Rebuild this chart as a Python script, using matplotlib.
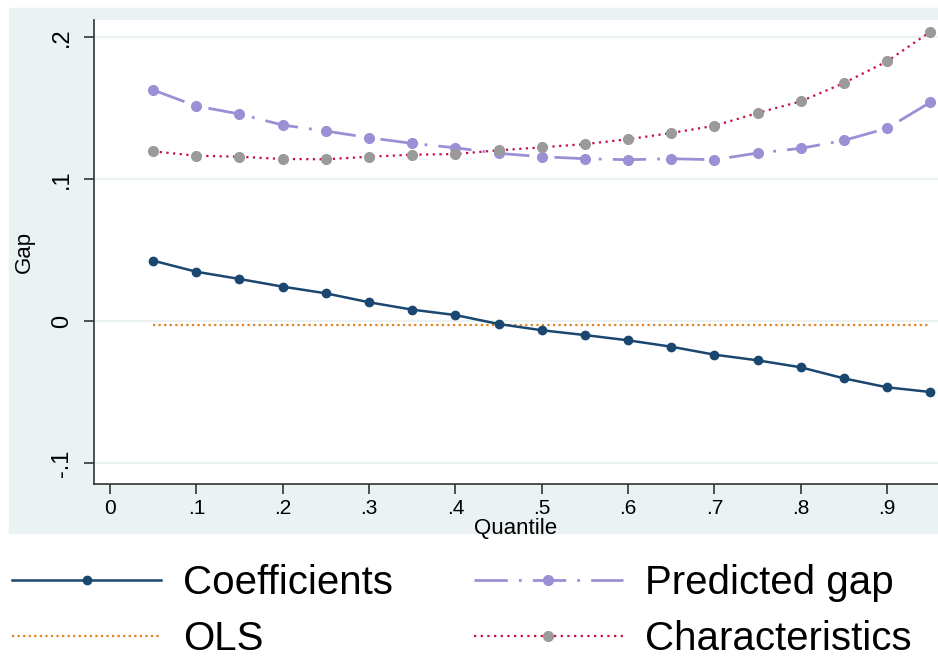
import numpy as np
import matplotlib
matplotlib.use("Agg")
import matplotlib.pyplot as plt
from matplotlib.patches import Rectangle

plt.rcParams['font.family'] = ['Liberation Sans', 'DejaVu Sans']

quantile = [0.05, 0.10, 0.15, 0.20, 0.25, 0.30, 0.35, 0.40, 0.45, 0.50,
            0.55, 0.60, 0.65, 0.70, 0.75, 0.80, 0.85, 0.90, 0.95]
coefficients = [0.0425, 0.0347, 0.0296, 0.0242, 0.0195, 0.0132, 0.0080, 0.0042, -0.0021, -0.0065,
                -0.0099, -0.0136, -0.0181, -0.0237, -0.0277, -0.0326, -0.0404, -0.0467, -0.0500]
ols = [-0.0028, -0.0028, -0.0028, -0.0028, -0.0028, -0.0028, -0.0028, -0.0028, -0.0028, -0.0028,
       -0.0028, -0.0028, -0.0028, -0.0028, -0.0028, -0.0028, -0.0028, -0.0028, -0.0028]
predicted = [0.1627, 0.1514, 0.1458, 0.1380, 0.1338, 0.1291, 0.1251, 0.1220, 0.1181, 0.1157,
             0.1143, 0.1136, 0.1143, 0.1136, 0.1183, 0.1216, 0.1272, 0.1357, 0.1540]
characteristics = [0.1195, 0.1164, 0.1157, 0.1141, 0.1139, 0.1157, 0.1171, 0.1176, 0.1202, 0.1223,
                   0.1246, 0.1280, 0.1324, 0.1375, 0.1465, 0.1547, 0.1676, 0.1829, 0.2037]

xticks = [0, .1, .2, .3, .4, .5, .6, .7, .8, .9]
xticklabels = ['0', '.1', '.2', '.3', '.4', '.5', '.6', '.7', '.8', '.9']
yticks = [-.1, 0, .1, .2]
yticklabels = ['-.1', '0', '.1', '.2']

bg = '#eaf2f3'
navy = '#1a476f'
lavender = '#9a90d6'
cranberry = '#c8103e'
gray = '#9a9a9a'
orange = '#e08020'

fig = plt.figure(figsize=(9.38, 6.67), dpi=100)
fig.patches.append(Rectangle((9/938, 1-533/667), 1, (533-8)/667,
                             transform=fig.transFigure, color=bg, zorder=-1))

ax = fig.add_axes([94/938, 1-484/667, 1-94/938, (484-20)/667])
ax.set_facecolor('white')

for y in yticks:
    ax.axhline(y, color=bg, lw=1.5, zorder=0)

ax.plot(quantile, coefficients, color=navy, lw=1.8, marker='o', ms=6, label='Coefficients', zorder=4)
ax.plot(quantile, ols, color=orange, lw=1.6, ls=(0, (1, 1.5)), label='OLS', zorder=3)
ax.plot(quantile, predicted, color=lavender, lw=2, marker='o', ms=7,
        dashes=(12, 4, 1, 4), label='Predicted gap', zorder=3)
ax.plot(quantile, characteristics, color=cranberry, lw=1.6, ls=(0, (1, 2)),
        marker='o', ms=7, mfc=gray, mec=gray, label='Characteristics', zorder=3)

ax.set_xlim(-0.0185, 0.959)
ax.set_ylim(-0.1148, 0.212)
ax.set_xticks(xticks)
ax.set_xticklabels(xticklabels, fontsize=15)
ax.set_yticks(yticks)
ax.set_yticklabels(yticklabels, fontsize=17, rotation=90, va='center')
ax.tick_params(axis='x', length=7, width=1.2, pad=4, color='#333333')
ax.tick_params(axis='y', length=7, width=1.2, pad=8, color='#333333')
for s in ['top', 'right']:
    ax.spines[s].set_visible(False)
for s in ['left', 'bottom']:
    ax.spines[s].set_color('#333333')
    ax.spines[s].set_linewidth(1.2)

ax.set_xlabel('Quantile', fontsize=16, labelpad=0)
ax.set_ylabel('Gap', fontsize=16, labelpad=12)

handles, labels = ax.get_legend_handles_labels()
fig.legend(handles, labels, ncol=2, loc='upper left', bbox_to_anchor=(12/938, 1-564/667),
           frameon=False, fontsize=29, handlelength=3.7, handletextpad=0.55,
           columnspacing=2.0, labelspacing=0.45, borderpad=0, borderaxespad=0)

fig.savefig('out.png', dpi=100, facecolor='white')
